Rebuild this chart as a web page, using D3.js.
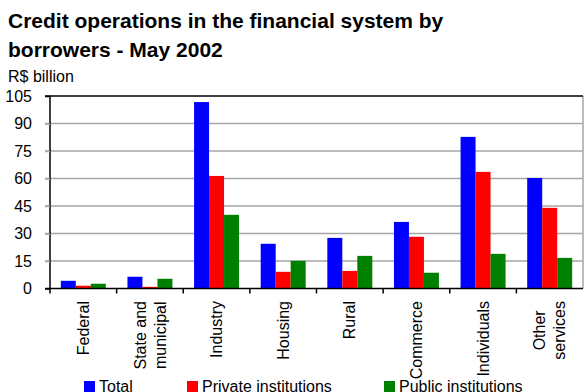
<!DOCTYPE html>
<html>
<head>
<meta charset="utf-8">
<script src="https://cdn.jsdelivr.net/npm/d3@7"></script>
<style>
  body { margin: 0; background: #fff; }
  svg { display: block; font-family: "Liberation Sans", Arial, sans-serif; }
</style>
</head>
<body>
<div id="chart"></div>
<script>
// chart data
const categories = ["Federal", "State and\nmunicipal", "Industry", "Housing", "Rural", "Commerce", "Individuals", "Other\nservices"];
const seriesNames = ["Total", "Private institutions", "Public institutions"];
const total = [4.2, 6.4, 101.7, 24.4, 27.6, 36.3, 82.7, 60.3];
const privateInst = [1.5, 0.9, 61.4, 9.1, 9.6, 28.2, 63.6, 44.0];
const publicInst = [2.6, 5.3, 40.2, 15.1, 17.8, 8.6, 18.9, 16.7];
const yTicks = [0, 15, 30, 45, 60, 75, 90, 105];
const colors = ["#0000ff", "#ff0000", "#008000"];

const width = 584;
const height = 392;
const plotLeft = 50, plotRight = 583, plotTop = 96, plotBottom = 288.5;

const svg = d3.select("#chart").append("svg")
  .attr("width", width)
  .attr("height", height);

// title
svg.append("text").attr("x", 8).attr("y", 28)
  .style("font-size", "21px").style("font-weight", "bold")
  .text("Credit operations in the financial system by");
svg.append("text").attr("x", 8).attr("y", 57)
  .style("font-size", "21px").style("font-weight", "bold")
  .text("borrowers - May 2002");
svg.append("text").attr("x", 8).attr("y", 82)
  .style("font-size", "16px")
  .text("R$ billion");

// scales
const x0 = d3.scaleBand()
  .domain(categories)
  .range([plotLeft, plotRight])
  .paddingInner(0.325)
  .paddingOuter(0.1625);
const x1 = d3.scaleBand()
  .domain(seriesNames)
  .range([0, x0.bandwidth()]);
const y = d3.scaleLinear().domain([0, 105]).range([plotBottom, plotTop]);

// gridlines
svg.append("g")
  .selectAll("line")
  .data(yTicks.filter(d => d > 0 && d < 105))
  .join("line")
  .attr("x1", plotLeft - 5).attr("x2", plotRight)
  .attr("y1", d => y(d)).attr("y2", d => y(d))
  .attr("stroke", "#a6a6a6")
  .attr("stroke-width", 1.5);

// right border
svg.append("line")
  .attr("x1", plotRight).attr("x2", plotRight)
  .attr("y1", plotTop).attr("y2", plotBottom)
  .attr("stroke", "#a6a6a6").attr("stroke-width", 1.5);

// top line
svg.append("line")
  .attr("x1", plotLeft - 5).attr("x2", plotRight)
  .attr("y1", plotTop).attr("y2", plotTop)
  .attr("stroke", "#000").attr("stroke-width", 1.5);

// bars
const rows = categories.map((c, i) => ({
  cat: c,
  vals: [total[i], privateInst[i], publicInst[i]]
}));

svg.append("g")
  .selectAll("g")
  .data(rows)
  .join("g")
  .attr("transform", d => `translate(${x0(d.cat)},0)`)
  .selectAll("rect")
  .data(d => d.vals.map((v, j) => ({ name: seriesNames[j], v: v, j: j })))
  .join("rect")
  .attr("x", d => x1(d.name))
  .attr("width", x1.bandwidth())
  .attr("y", d => y(d.v))
  .attr("height", d => y(0) - y(d.v))
  .attr("fill", d => colors[d.j]);

// y axis
const yAxis = svg.append("g")
  .attr("transform", `translate(${plotLeft},0)`)
  .call(d3.axisLeft(y).tickValues(yTicks).tickSize(5).tickPadding(13));
yAxis.select(".domain").attr("stroke", "#000").attr("stroke-width", 1.5)
  .attr("d", `M0,${plotTop}V${plotBottom + 5}`);
yAxis.selectAll(".tick line").attr("stroke", "#a6a6a6").attr("stroke-width", 1.5);
yAxis.selectAll(".tick").filter(d => d === 0 || d === 105).select("line").attr("stroke", "#000");
yAxis.selectAll(".tick text")
  .style("font-size", "16px")
  .style("font-family", "Liberation Sans, Arial, sans-serif")
  .attr("fill", "#000");

// x axis line + ticks at category boundaries
const step = x0.step();
const bounds = d3.range(categories.length + 1).map(i => plotLeft + i * step);
svg.append("line")
  .attr("x1", plotLeft - 5).attr("x2", plotRight)
  .attr("y1", plotBottom).attr("y2", plotBottom)
  .attr("stroke", "#000").attr("stroke-width", 1.5);
svg.append("g")
  .selectAll("line")
  .data(bounds.slice(1, -1))
  .join("line")
  .attr("x1", d => d).attr("x2", d => d)
  .attr("y1", plotBottom).attr("y2", plotBottom + 5)
  .attr("stroke", "#000").attr("stroke-width", 1.5);

// category labels, rotated, block anchored at top, lines centered
const lineGap = 20;
const labelTop = 301;
categories.forEach(c => {
  const lines = c.split("\n");
  const cx = x0(c) + x0.bandwidth() / 2;
  const g = svg.append("g");
  const texts = lines.map((ln, k) => {
    const off = (k - (lines.length - 1) / 2) * lineGap;
    return g.append("text")
      .attr("transform", `translate(${cx + off},0) rotate(-90)`)
      .attr("dy", "0.35em")
      .style("font-size", "16px")
      .text(ln);
  });
  const maxW = d3.max(texts, t => t.node().getComputedTextLength());
  texts.forEach(t => {
    t.attr("x", -(labelTop + maxW / 2)).attr("text-anchor", "middle");
  });
});

// legend
const legendX = [84, 187, 384];
const legend = svg.append("g");
seriesNames.forEach((s, i) => {
  legend.append("rect")
    .attr("x", legendX[i]).attr("y", 381)
    .attr("width", 11).attr("height", 11)
    .attr("fill", colors[i]);
  legend.append("text")
    .attr("x", legendX[i] + 15).attr("y", 392)
    .style("font-size", "16px")
    .text(s);
});
</script>
</body>
</html>
